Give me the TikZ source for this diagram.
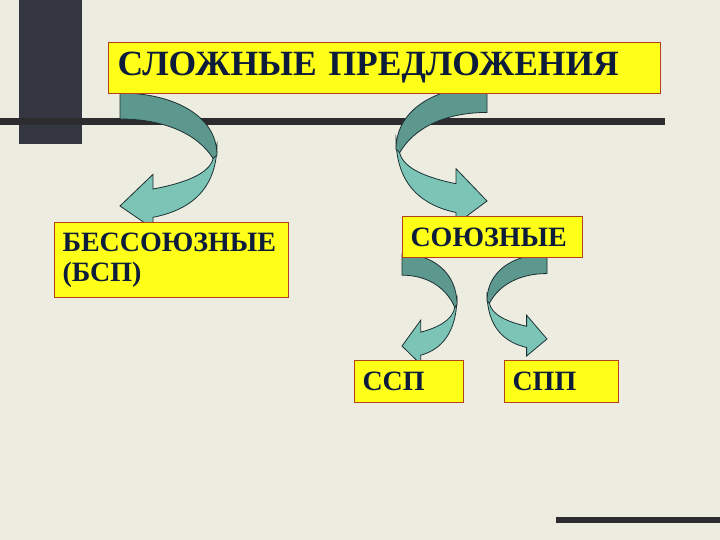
\documentclass[tikz,border=0pt]{standalone}
\usepackage{fontspec}
\setmainfont{Liberation Serif}
\usepackage{tikz}
\usetikzlibrary{calc}

\definecolor{paper}{RGB}{236,236,225}
\definecolor{barcol}{RGB}{52,54,66}
\definecolor{rulecol}{RGB}{44,44,46}
\definecolor{boxfill}{RGB}{255,255,24}
\definecolor{boxline}{RGB}{180,64,30}
\definecolor{inkblue}{RGB}{12,28,58}
\definecolor{tealdark}{RGB}{92,152,142}
\definecolor{teallight}{RGB}{124,196,182}
\definecolor{tealline}{RGB}{28,48,50}

\pgfdeclarelayer{back}
\pgfdeclarelayer{mid}
\pgfsetlayers{back,mid,main}

\tikzset{
  box/.style={draw=boxline, line width=1pt, fill=boxfill, text=inkblue,
    anchor=north west, inner xsep=8pt, inner ysep=2pt, align=left,
    font=\bfseries\fontsize{28}{30}\selectfont},
  bigbox/.style={box, inner xsep=9pt, font=\bfseries\fontsize{35.5}{40}\selectfont},
  bandback/.style={fill=tealdark, draw=tealline, line width=0.8pt},
  bandfront/.style={fill=teallight, draw=tealline, line width=0.8pt}
}

% #1 start point, #2 width (negative = mirrored), #3 height
\newcommand{\bentarrow}[3]{
\begin{scope}[shift={#1}, xscale=#2, yscale=#3]
\filldraw[bandfront] (1,0.45) .. controls (1,0.87) and (0.7,1.04) .. (0.34,1.1)
  -- (0.34,1.2) -- (0,1) -- (0.34,0.72) -- (0.34,0.85)
  .. controls (0.65,0.8) and (0.92,0.72) .. (0.96,0.58) -- cycle;
\filldraw[bandback] (0,0) .. controls (0.55,0) and (1,0.2) .. (1,0.55)
  -- (0.96,0.58) .. controls (0.8,0.36) and (0.45,0.23) .. (0,0.23) -- cycle;
\end{scope}
}

\begin{document}
\begin{tikzpicture}[x=1pt, y=-1pt]
\useasboundingbox (0,0) rectangle (720,540);

\node[bigbox, text width=534pt, minimum height=51pt] (title) at (108,42) {СЛОЖНЫЕ ПРЕДЛОЖЕНИЯ};
\node[box, text width=218pt, minimum height=75pt] (bsp) at (54,222) {БЕССОЮЗНЫЕ\\(БСП)};
\node[box, text width=164pt, minimum height=41pt] (soyuz) at (402,216) {СОЮЗНЫЕ};
\node[box, text width=93pt, minimum height=42pt] (ssp) at (354,360) {ССП};
\node[box, text width=98pt, minimum height=42pt] (spp) at (504,360) {СПП};

\begin{pgfonlayer}{back}
\fill[paper] (0,0) rectangle (720,540);
\fill[barcol] (19,0) rectangle (82,144);
\draw[rulecol, line width=7pt] (0,122) -- (665,122);
\draw[rulecol, line width=6pt] (556,520) -- (720,520);
\end{pgfonlayer}

\begin{pgfonlayer}{mid}
\bentarrow{($(title.south west)+(12,-1)$)}{97}{113}
\bentarrow{($(title.south west)+(379,-8)$)}{-91}{115}
\bentarrow{($(soyuz.south west)+(0,-4)$)}{55}{92}
\bentarrow{($(soyuz.south west)+(145,-4)$)}{-60}{85}
\end{pgfonlayer}
\end{tikzpicture}
\end{document}
